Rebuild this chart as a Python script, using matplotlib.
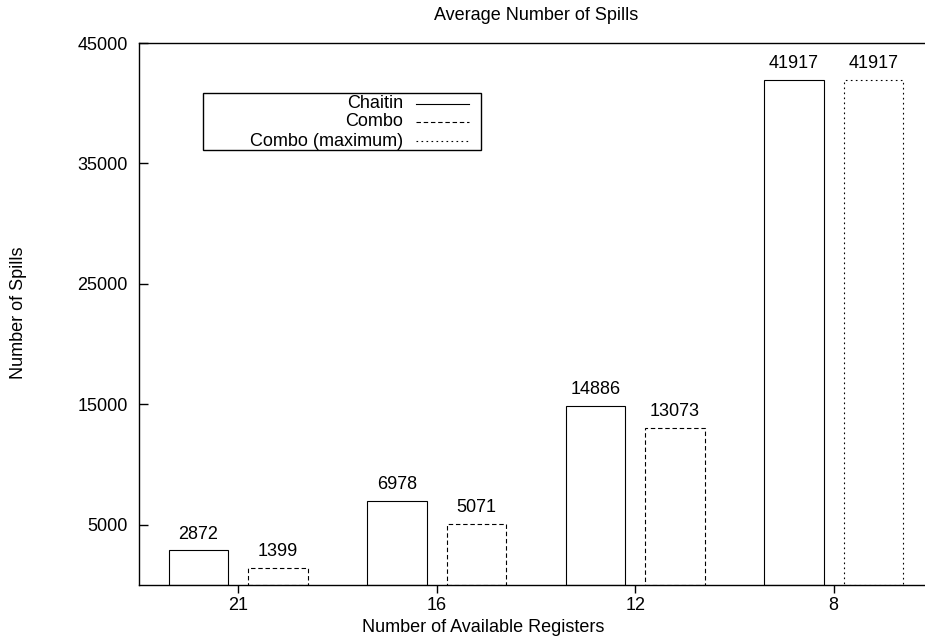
import numpy as np
import matplotlib
matplotlib.use("Agg")
import matplotlib.pyplot as plt
from matplotlib.patches import Rectangle
from matplotlib.lines import Line2D

plt.rcParams['font.family'] = ['Liberation Sans', 'DejaVu Sans']

# Register counts (x categories) and average spills per allocator
registers = ["21", "16", "12", "8"]
chaitin = [2872, 6978, 14886, 41917]
combo = [1399, 5071, 13073, np.nan]
combo_max = [np.nan, np.nan, np.nan, 41917]
yticks = [5000, 15000, 25000, 35000, 45000]

FS = 13
fig = plt.figure(figsize=(9.25, 6.41), dpi=100)
W, H = 925, 641
ax_l, ax_r, ax_t, ax_b = 139, 933, 43, 585
ax = fig.add_axes([ax_l / W, 1 - ax_b / H, (ax_r - ax_l) / W, (ax_b - ax_t) / H])

x = np.arange(len(registers))
off, width = 0.2, 0.3

series = [
    (chaitin, -off, "-"),
    (combo, off, (0, (4, 2.5))),
    (combo_max, off, (0, (1.5, 3))),
]
for vals, dx, ls in series:
    for xi, v in zip(x, vals):
        if np.isnan(v):
            continue
        ax.bar(xi + dx, v, width=width, facecolor="white", edgecolor="black",
               linewidth=0.8, linestyle=ls, zorder=2)
        ax.annotate(f"{int(v)}", xy=(xi + dx, v), xytext=(0, 8.5),
                    textcoords="offset points", ha="center", va="baseline",
                    fontsize=FS)

ax.set_xlim(-0.5, 3.5)
ax.set_ylim(0, 45000)
ax.set_xticks(x)
ax.set_xticklabels(registers, fontsize=FS)
ax.set_yticks(yticks)
ax.set_yticklabels([str(t) for t in yticks], fontsize=FS)
ax.tick_params(axis="y", direction="in", length=6.5, width=1.0, pad=8)
ax.tick_params(axis="x", direction="out", length=5.8, width=1.0, pad=3)
for s in ax.spines.values():
    s.set_linewidth(1.0)
ax.spines["right"].set_visible(False)

ax.set_title("Average Number of Spills", fontsize=FS, y=(ax_b - 15) / (ax_b - ax_t),
             va="center", pad=0)
ax.set_xlabel("Number of Available Registers", fontsize=FS, va="center")
ax.xaxis.set_label_coords((483 - ax_l) / (ax_r - ax_l), (ax_b - 627) / (ax_b - ax_t))
ax.set_ylabel("Number of Spills", fontsize=FS, va="center", ha="center")
ax.yaxis.set_label_coords((18 - ax_l) / (ax_r - ax_l), (ax_b - 313) / (ax_b - ax_t))


# Key box in the upper left of the plot area
def fx(px):
    return (px - ax_l) / (ax_r - ax_l)


def fy(py):
    return (ax_b - py) / (ax_b - ax_t)


ax.add_patch(Rectangle((fx(203), fy(150)), fx(481) - fx(203), fy(93) - fy(150),
                       transform=ax.transAxes, facecolor="white", edgecolor="black",
                       linewidth=1.0, zorder=5))
key = [("Chaitin", "-", 104), ("Combo", (0, (4, 2.5)), 122),
       ("Combo (maximum)", (0, (1.5, 3)), 141)]
for label, ls, py in key:
    ax.text(fx(403), fy(py), label, transform=ax.transAxes, ha="right",
            va="center", fontsize=FS, zorder=6)
    ax.add_line(Line2D([fx(416), fx(469)], [fy(py), fy(py)], transform=ax.transAxes,
                       color="black", linewidth=0.8, linestyle=ls, zorder=6))

fig.savefig("out.png", dpi=100)
